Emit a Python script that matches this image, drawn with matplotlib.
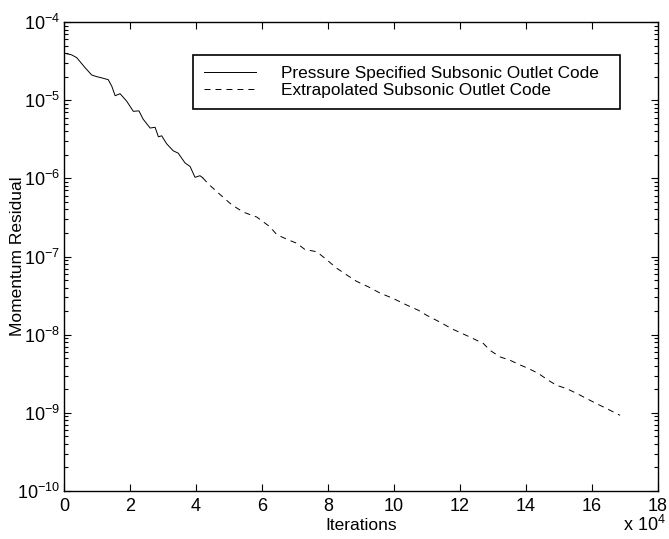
import matplotlib
matplotlib.use("Agg")
import matplotlib.pyplot as plt
from matplotlib.ticker import FixedLocator, FixedFormatter, LogLocator, NullFormatter

plt.rcParams['font.family'] = ['Liberation Sans', 'DejaVu Sans']
plt.rcParams['mathtext.default'] = 'regular'
plt.rcParams['lines.scale_dashes'] = False

# iterations (x 10^4) and momentum residual
iter_solid = [0.0, 0.23, 0.385, 0.64, 0.84, 0.99, 1.14, 1.34, 1.45, 1.55, 1.70, 1.90,
              2.10, 2.27, 2.40, 2.61, 2.76, 2.86, 2.96, 3.11, 3.31, 3.46, 3.67, 3.82,
              3.97, 4.12, 4.20]
res_solid = [4.0e-5, 3.8e-5, 3.5e-5, 2.6e-5, 2.1e-5, 2.0e-5, 1.93e-5, 1.83e-5, 1.50e-5,
             1.14e-5, 1.21e-5, 9.7e-6, 7.2e-6, 7.3e-6, 5.7e-6, 4.4e-6, 4.5e-6, 3.4e-6,
             3.5e-6, 2.77e-6, 2.25e-6, 2.10e-6, 1.57e-6, 1.42e-6, 1.03e-6, 1.08e-6, 1.02e-6]

iter_dash = [4.20, 4.37, 4.73, 5.08, 5.43, 5.84, 6.24, 6.45, 6.80, 7.05, 7.30, 7.66, 7.96,
             8.26, 8.57, 8.87, 9.22, 9.58, 9.98, 10.38, 10.74, 10.99, 11.39, 11.75, 12.10,
             12.40, 12.71, 12.91, 13.21, 13.52, 13.82, 14.07, 14.37, 14.68, 14.93, 15.23,
             15.54, 15.84, 16.14, 16.45, 16.85]
res_dash = [1.02e-6, 8.5e-7, 6.2e-7, 4.6e-7, 3.7e-7, 3.2e-7, 2.4e-7, 1.9e-7, 1.63e-7,
            1.48e-7, 1.23e-7, 1.15e-7, 9.1e-8, 7.1e-8, 5.8e-8, 4.8e-8, 4.1e-8, 3.4e-8,
            2.9e-8, 2.4e-8, 2.05e-8, 1.77e-8, 1.45e-8, 1.19e-8, 1.02e-8, 8.9e-9, 7.7e-9,
            6.3e-9, 5.2e-9, 4.7e-9, 4.1e-9, 3.7e-9, 3.2e-9, 2.6e-9, 2.25e-9, 2.04e-9,
            1.77e-9, 1.52e-9, 1.31e-9, 1.13e-9, 9.3e-10]

x_ticks = [0, 2, 4, 6, 8, 10, 12, 14, 16, 18]
y_exps = [-10, -9, -8, -7, -6, -5, -4]

W, H = 669, 539
fig = plt.figure(figsize=(W / 100, H / 100), dpi=100)
ax = fig.add_axes([64 / W, (H - 491) / H, 594 / W, 469 / H])

ax.plot(iter_solid, res_solid, color='black', linewidth=0.7,
        label='Pressure Specified Subsonic Outlet Code')
ax.plot(iter_dash, res_dash, color='black', linewidth=0.7, dashes=(4.3, 3.6),
        label='Extrapolated Subsonic Outlet Code')

ax.set_yscale('log')
ax.set_xlim(0, 18)
ax.set_ylim(1e-10, 1e-4)

ax.xaxis.set_major_locator(FixedLocator(x_ticks))
ax.xaxis.set_major_formatter(FixedFormatter([str(t) for t in x_ticks]))
ax.yaxis.set_major_locator(FixedLocator([10.0 ** e for e in y_exps]))
ax.yaxis.set_major_formatter(FixedFormatter([r'$10^{%d}$' % e for e in y_exps]))
ax.yaxis.set_minor_locator(LogLocator(base=10, subs=range(2, 10), numticks=20))
ax.yaxis.set_minor_formatter(NullFormatter())

ax.tick_params(which='both', direction='in', top=True, right=True, labelsize=13,
               width=0.8, colors='black')
ax.tick_params(which='major', length=5)
ax.tick_params(which='minor', length=3)
ax.tick_params(axis='x', pad=5)
ax.tick_params(axis='y', pad=3)
for s in ax.spines.values():
    s.set_linewidth(1.0)

ax.set_xlabel('Iterations', fontsize=12.5)
ax.xaxis.set_label_coords(0.5, -(525 - 491) / 469, transform=ax.transAxes)
ax.xaxis.label.set_va('center')
ax.set_ylabel('Momentum Residual', fontsize=12.5)
ax.yaxis.set_label_coords(-(64 - 18) / 594, 0.5)
ax.yaxis.label.set_va('center')
fig.text(623 / W, 1 - 525 / H, r'x $10^{4}$', fontsize=13, ha='left', va='center')

leg = ax.legend(loc='upper left',
                bbox_to_anchor=(193 / W, 1 - 55 / H - 0.01, 427 / W, 0.01),
                bbox_transform=fig.transFigure, mode='expand', fontsize=12.4,
                frameon=True, fancybox=False, edgecolor='black', framealpha=1,
                handlelength=3.0, handletextpad=1.5, borderpad=0.63,
                labelspacing=0.12, borderaxespad=0)
leg.get_frame().set_linewidth(1.2)

fig.savefig('out.png', dpi=100, facecolor='white')
